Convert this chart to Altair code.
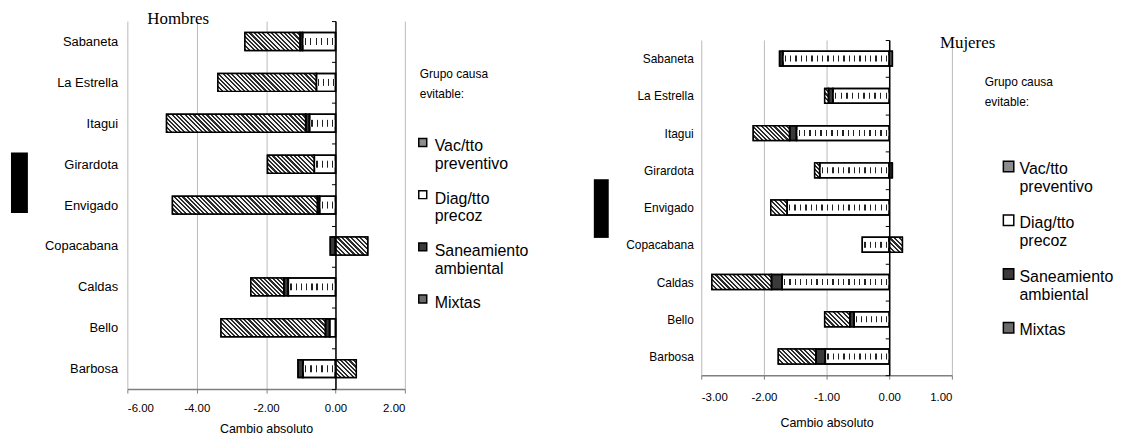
import altair as alt
import pandas as pd

# ---------------- data ----------------
cities = ["Sabaneta", "La Estrella", "Itagui", "Girardota", "Envigado",
          "Copacabana", "Caldas", "Bello", "Barbosa"]
groups = ["Vac/tto preventivo", "Diag/tto precoz", "Saneamiento ambiental", "Mixtas"]

# Hombres
vac_h = [0.00, 0.00, 0.00, 0.00, 0.00, 0.00, 0.00, 0.00, 0.00]
diag_h = [-0.95, -0.55, -0.75, -0.61, -0.46, 0.00, -1.36, -0.17, -0.94]
san_h = [-0.07, 0.00, -0.11, 0.00, -0.06, -0.15, -0.13, -0.12, -0.14]
mix_h = [-1.59, -2.84, -4.01, -1.35, -4.18, 0.93, -0.95, -3.01, 0.60]

# Mujeres
vac_m = [0.05, 0.00, 0.00, 0.00, 0.00, 0.00, 0.00, 0.00, 0.00]
diag_m = [-1.70, -0.90, -1.48, -1.11, -1.63, -0.43, -1.71, -0.56, -1.02]
san_m = [-0.05, -0.07, -0.11, 0.05, 0.00, 0.00, -0.17, -0.07, -0.15]
mix_m = [0.00, -0.06, -0.58, -0.08, -0.26, 0.21, -0.95, -0.40, -0.60]

x_ticks_h = [-6, -4, -2, 0, 2]
x_ticks_m = [-3, -2, -1, 0, 1]
legend_title = ["Grupo causa", "evitable:"]

SANS = "Liberation Sans"
SERIF = "Liberation Serif"
FILLS = ["#8c8c8c", "#ffffff", "#3a3a3a", "#6a6a6a"]
DARK = "#2b2b2b"
LIGHT = "#f2f2f2"


def stacked(series_list):
    rows = []
    for i, c in enumerate(cities):
        neg = pos = 0.0
        for g, s in zip(groups, series_list):
            v = s[i]
            if v == 0:
                continue
            if v < 0:
                a, b = neg, neg + v
                neg = b
            else:
                a, b = pos, pos + v
                pos = b
            rows.append(dict(ciudad=c, grupo=g, valor=v, x0=a, x1=b))
    return pd.DataFrame(rows)


def hatch_fill(w, h, period=4.4):
    k = (w + h) / (w * w + h * h)
    n = max(1, round((w + h) / period))
    stops = []
    for i in range(n):
        a, m, b = i / n, (i + 0.5) / n, (i + 1) / n
        stops += [alt.GradientStop(offset=a, color=DARK),
                  alt.GradientStop(offset=m, color=DARK),
                  alt.GradientStop(offset=m, color=LIGHT),
                  alt.GradientStop(offset=b, color=LIGHT)]
    return alt.LinearGradient(gradient="linear", stops=stops,
                              x1=0, y1=1, x2=k * w, y2=1 - k * h)


def dash_fill(w, period=5.4, lw=1.3):
    n = max(1, round(w / period))
    f = lw / period
    stops = []
    for i in range(n):
        a = i / n
        m1 = (i + 0.5 - f / 2) / n
        m2 = (i + 0.5 + f / 2) / n
        b = (i + 1) / n
        stops += [alt.GradientStop(offset=a, color="white"),
                  alt.GradientStop(offset=m1, color="white"),
                  alt.GradientStop(offset=m1, color="#222222"),
                  alt.GradientStop(offset=m2, color="#222222"),
                  alt.GradientStop(offset=m2, color="white"),
                  alt.GradientStop(offset=b, color="white")]
    return alt.LinearGradient(gradient="linear", stops=stops, x1=0, y1=0, x2=1, y2=0)


def panel(series_list, domain, ticks, width, height, bar_h, lab_size,
          lab_pad, x_lab_pad, x_title_pad, title, title_dx, title_offset,
          legend_kw, deco):
    df = stacked(series_list)
    ppu = width / (domain[1] - domain[0])
    zero_px = -domain[0] * ppu

    y_enc = alt.Y("ciudad:N", sort=cities,
                  scale=alt.Scale(domain=cities, paddingInner=0, paddingOuter=0),
                  axis=alt.Axis(title=None, offset=-zero_px, tickBand="extent", tickSize=4,
                                tickColor="black", domainColor="black", domainWidth=1.5,
                                labelPadding=lab_pad, labelFont=SANS, labelFontSize=lab_size,
                                labelColor="black", grid=False, zindex=1))
    x_enc = alt.X("x0:Q", scale=alt.Scale(domain=domain, nice=False, zero=False),
                  axis=alt.Axis(values=ticks, title="Cambio absoluto",
                                labelExpr="(datum.value < 0 ? '-' : '') + format(abs(datum.value), '.2f')",
                                grid=True, gridColor="#b9b9b9", gridWidth=1,
                                domainColor="#7f7f7f", domainWidth=1.5,
                                tickColor="#7f7f7f", tickSize=4,
                                labelPadding=x_lab_pad, labelFont=SANS, labelFontSize=11.5,
                                labelColor="black", titleFont=SANS, titleFontSize=12.5,
                                titleFontWeight="normal", titleColor="black",
                                titlePadding=x_title_pad))
    x2_enc = alt.X2("x1:Q")

    base = alt.Chart(df).mark_bar(size=bar_h, stroke="black", strokeWidth=1.5).encode(
        y=y_enc, x=x_enc, x2=x2_enc,
        color=alt.Color("grupo:N", sort=groups,
                        scale=alt.Scale(domain=groups, range=FILLS),
                        legend=alt.Legend(**legend_kw)),
    )
    layers = [base]
    for _, r in df.iterrows():
        w = abs(r["valor"]) * ppu
        flt = f"datum.ciudad == '{r['ciudad']}' && datum.grupo == '{r['grupo']}'"
        if r["grupo"] == "Mixtas" and w >= 3:
            layers.append(alt.Chart(df).transform_filter(flt).mark_bar(
                size=bar_h, fill=hatch_fill(w, bar_h)).encode(y=y_enc, x=x_enc, x2=x2_enc))
        if r["grupo"] == "Diag/tto precoz" and w >= 6:
            layers.append(alt.Chart(df).transform_filter(flt).mark_bar(
                size=round(bar_h * 0.4), fill=dash_fill(w)).encode(y=y_enc, x=x_enc, x2=x2_enc))
    outline = alt.Chart(df).mark_bar(size=bar_h, fill="white", fillOpacity=0,
                                     stroke="black", strokeWidth=1.5).encode(
        y=y_enc, x=x_enc, x2=x2_enc)
    layers.append(outline)
    deco_rect = alt.Chart(pd.DataFrame({"k": [0]})).mark_rect(color="black").encode(
        x=alt.value(deco[0]), x2=alt.value(deco[1]), y=alt.value(deco[2]), y2=alt.value(deco[3]))
    layers.append(deco_rect)

    return alt.layer(*layers).properties(
        width=width, height=height,
        title=alt.TitleParams(title, anchor="start", frame="group", dx=title_dx,
                              offset=title_offset, font=SERIF, fontSize=17,
                              fontWeight="normal", color="black"),
    )


def legend_kw(x, y, lab_size, title_size, title_pad, row_pad, sym_off, lab_off, sym_size):
    return dict(orient="none", legendX=x, legendY=y, title=legend_title,
                titleFont=SANS, titleFontSize=title_size, titleFontWeight="normal",
                titleColor="black", titleLineHeight=20, titlePadding=title_pad,
                titleAnchor="start", labelExpr="split(datum.label, ' ')",
                labelFont=SANS, labelFontSize=lab_size, labelColor="black",
                labelBaseline="top", labelLimit=0, labelOffset=lab_off,
                symbolType="M-1,0L1,0L1,2L-1,2Z", symbolSize=sym_size,
                symbolStrokeColor="black", symbolStrokeWidth=1.5,
                symbolOffset=sym_off, rowPadding=row_pad, padding=0)


left = panel([vac_h, diag_h, san_h, mix_h], [-6, 2], x_ticks_h, 279, 370, 18, 13,
             215, 10, 8, "Hombres", 20, -12.5,
             legend_kw(294, 48, 16, 12, 30, 10.5, -5, 4, 64),
             (-117, -100, 132, 193))
right = panel([vac_m, diag_m, san_m, mix_m], [-3, 1], x_ticks_m, 252, 337, 15, 12,
              193, 12, 14, "Mujeres", 240, -18,
              legend_kw(285, 56, 16, 12, 45, 12, 16, 3, 110),
              (-108, -93, 140, 199))

# invisible spacer that lowers the right panel relative to the left one
spacer = alt.Chart(pd.DataFrame({"k": [0]})).mark_point(opacity=0, size=1).encode(
    x=alt.value(5), y=alt.value(5)).properties(width=10, height=13)
right_col = alt.vconcat(spacer, right, spacing=0)

chart = alt.hconcat(left, right_col, spacing=65).resolve_scale(
    color="independent").resolve_legend(color="independent").configure_view(
    stroke=None).properties(padding={"left": 3, "top": 0, "right": 0, "bottom": 0},
                            background="white")

chart.save("out.html", embed_options={"renderer": "svg", "actions": False})
